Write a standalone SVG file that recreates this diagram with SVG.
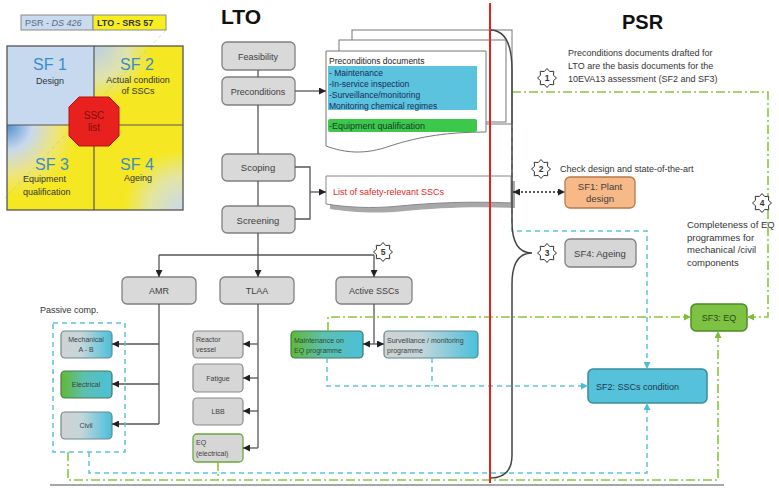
<svg xmlns="http://www.w3.org/2000/svg" width="779" height="488" viewBox="0 0 779 488">
<style>
text{font-family:"Liberation Sans",Arial,sans-serif;fill:#404040}
.box{fill:#d9d9d9;stroke:#808080;stroke-width:1.3}
.sub{fill:#d6d6d6;stroke:#8a8a8a;stroke-width:1.2}
.lbl{font-size:9px;text-anchor:middle}
.sl{font-size:7px}
.ln{fill:none;stroke:#555;stroke-width:1.3}
.blue{fill:none;stroke:#5cc4dc;stroke-width:1.5;stroke-dasharray:5 4}
.green{fill:none;stroke:#8cc63e;stroke-width:1.6;stroke-dasharray:9 3 2 3}
.note{font-size:9px;fill:#333}
.sf{font-size:16px;fill:#3b8cc6;text-anchor:middle}
.sfs{font-size:9px;fill:#333}
.badge{fill:#fff;stroke:#333;stroke-width:1}
.bn{font-size:8.5px;font-weight:bold;text-anchor:middle;fill:#333}
</style>
<defs>
<marker id="aK" markerWidth="7" markerHeight="7" refX="7" refY="3.5" orient="auto" markerUnits="userSpaceOnUse"><path d="M0,0 L7,3.5 L0,7 z" fill="#222"/></marker>
<marker id="aKs" markerWidth="7" markerHeight="7" refX="7" refY="3.5" orient="auto-start-reverse" markerUnits="userSpaceOnUse"><path d="M0,0 L7,3.5 L0,7 z" fill="#222"/></marker>
<marker id="aB" markerWidth="7" markerHeight="7" refX="7" refY="3.5" orient="auto" markerUnits="userSpaceOnUse"><path d="M0,0 L7,3.5 L0,7 z" fill="#4fbcd6"/></marker>
<marker id="aG" markerWidth="7" markerHeight="7" refX="7" refY="3.5" orient="auto" markerUnits="userSpaceOnUse"><path d="M0,0 L7,3.5 L0,7 z" fill="#7fbf35"/></marker>
<linearGradient id="gGB" x1="0" y1="0" x2="1" y2="0"><stop offset="0" stop-color="#d2d2d2"/><stop offset="0.4" stop-color="#c4d6da"/><stop offset="1" stop-color="#48c0da"/></linearGradient>
<linearGradient id="gGrB" x1="0" y1="0" x2="1" y2="0"><stop offset="0" stop-color="#62b834"/><stop offset="0.45" stop-color="#5cc0b0"/><stop offset="1" stop-color="#4cc0da"/></linearGradient>
<radialGradient id="gSF2" cx="94" cy="45" r="95" gradientUnits="userSpaceOnUse"><stop offset="0" stop-color="#b9cde8"/><stop offset="0.35" stop-color="#dfe3ad"/><stop offset="0.6" stop-color="#f5e823"/></radialGradient>
<radialGradient id="gSF3" cx="7" cy="125" r="100" gradientUnits="userSpaceOnUse"><stop offset="0" stop-color="#4f8fd0"/><stop offset="0.25" stop-color="#c8d8ee"/><stop offset="0.5" stop-color="#eee57c"/><stop offset="0.7" stop-color="#f5e823"/></radialGradient>
<radialGradient id="gSF4" cx="183" cy="210" r="85" gradientUnits="userSpaceOnUse"><stop offset="0" stop-color="#c8d9ee"/><stop offset="0.4" stop-color="#e3e5a0"/><stop offset="0.7" stop-color="#f5e823"/></radialGradient>
<path id="star" d="M9.5,0 L6.47,2.68 L6.72,6.72 L2.68,6.47 L0,9.5 L-2.68,6.47 L-6.72,6.72 L-6.47,2.68 L-9.5,0 L-6.47,-2.68 L-6.72,-6.72 L-2.68,-6.47 L0,-9.5 L2.68,-6.47 L6.72,-6.72 L6.47,-2.68 Z"/>
</defs>
<rect width="779" height="488" fill="#fff"/>

<!-- Legend -->
<g id="legend">
<rect x="21" y="15" width="72" height="15" fill="#c9dbef" stroke="#8a8a8a" stroke-width="1"/>
<rect x="93" y="15" width="73" height="15" fill="#f7ee1f" stroke="#8a8a8a" stroke-width="1"/>
<text x="25" y="26" style="font-size:9px;fill:#5a6a80">PSR - <tspan font-style="italic">DS 426</tspan></text>
<text x="97" y="26" style="font-size:9px;fill:#333;font-weight:bold">LTO - SRS 57</text>
<rect x="7" y="46" width="87" height="79" fill="#c6d9ee"/>
<rect x="94" y="46" width="89" height="79" fill="url(#gSF2)"/>
<rect x="7" y="125" width="87" height="85" fill="url(#gSF3)"/>
<rect x="94" y="125" width="89" height="85" fill="url(#gSF4)"/>
<line x1="166" y1="30" x2="5" y2="198" stroke="#9ccf6a" stroke-width="0.8" stroke-dasharray="4 3" opacity="0.6"/>
<rect x="7" y="46" width="176" height="164" fill="none" stroke="#555" stroke-width="1.3"/>
<line x1="94" y1="46" x2="94" y2="210" stroke="#555" stroke-width="1.2"/>
<line x1="7" y1="125" x2="183" y2="125" stroke="#555" stroke-width="1.2"/>
<text x="50" y="70" class="sf">SF 1</text>
<text x="50" y="84" class="sfs" text-anchor="middle">Design</text>
<text x="137" y="70" class="sf">SF 2</text>
<text x="138" y="83" class="sfs" text-anchor="middle">Actual condition</text>
<text x="138" y="94" class="sfs" text-anchor="middle">of SSCs</text>
<text x="52" y="170" class="sf">SF 3</text>
<text x="23" y="182" class="sfs">Equipment</text>
<text x="23" y="195" class="sfs">qualification</text>
<text x="137" y="170" class="sf">SF 4</text>
<text x="138" y="181" class="sfs" text-anchor="middle">Ageing</text>
<polygon points="79,97 109,97 119,107 119,136 109,146 79,146 69,136 69,107" fill="#e8201e" stroke="#b51212" stroke-width="1"/>
<text x="94" y="119" style="font-size:10px;fill:#7a1010;text-anchor:middle">SSC</text>
<text x="94" y="131" style="font-size:10px;fill:#7a1010;text-anchor:middle">list</text>
</g>

<!-- Titles -->
<text x="221" y="24" style="font-size:21px;font-weight:bold;fill:#111">LTO</text>
<text x="622" y="29" style="font-size:20px;font-weight:bold;fill:#111">PSR</text>

<!-- Documents -->
<g id="precond-docs">
<rect x="352" y="30" width="160" height="94" fill="#fff" stroke="#777" stroke-width="1"/>
<rect x="339" y="40" width="167" height="82" fill="#fff" stroke="#777" stroke-width="1"/>
<path d="M326,51 H486 V132 C450,132 420,136 390,146 C365,155 345,153 326,146 Z" fill="#fff" stroke="#777" stroke-width="1"/>
<text x="329" y="64" style="font-size:8.5px;fill:#222">Preconditions documents</text>
<rect x="328" y="66" width="149" height="44" fill="#5bc3dd"/>
<text x="329" y="76" style="font-size:8.5px;fill:#1a2a5a">- Maintenance</text>
<text x="329" y="87" style="font-size:8.5px;fill:#1a2a5a">-In-service inspection</text>
<text x="329" y="98" style="font-size:8.5px;fill:#1a2a5a">-Surveillance/monitoring</text>
<text x="329" y="109" style="font-size:8.5px;fill:#1a2a5a">Monitoring chemical regimes</text>
<rect x="328" y="119" width="149" height="13" rx="2" fill="#3cc84a"/>
<text x="329" y="129" style="font-size:9px;fill:#1a3a2a">-Equipment qualification</text>
</g>

<g id="ssc-list">
<path d="M330,181 H515 V208 C475,206 435,208 405,211 C375,214 350,212 330,209 Z" fill="#a8a8a8"/>
<path d="M326,176 H511 V203 C470,201 430,203 400,206 C370,209 345,207 326,204 Z" fill="#fff" stroke="#888" stroke-width="1"/>
<text x="333" y="195" style="font-size:9px;fill:#e8262a">List of safety-relevant SSCs</text>
</g>

<!-- LTO boxes -->
<g id="feasibility"><rect class="box" x="222" y="42" width="73" height="28" rx="5"/><text class="lbl" x="258" y="60">Feasibility</text></g>
<g id="preconditions"><rect class="box" x="222" y="77" width="73" height="28" rx="5"/><text class="lbl" x="258" y="95">Preconditions</text></g>
<g id="scoping"><rect class="box" x="222" y="154" width="73" height="27" rx="5"/><text class="lbl" x="258" y="171" style="font-size:9.5px">Scoping</text></g>
<g id="screening"><rect class="box" x="222" y="206" width="73" height="27" rx="5"/><text class="lbl" x="258" y="224" style="font-size:9.5px">Screening</text></g>
<g id="amr"><rect class="box" x="122" y="277" width="74" height="27" rx="5"/><text class="lbl" x="159" y="294">AMR</text></g>
<g id="tlaa"><rect class="box" x="220" y="277" width="74" height="27" rx="5"/><text class="lbl" x="257" y="294">TLAA</text></g>
<g id="active"><rect class="box" x="336" y="277" width="76" height="27" rx="5"/><text class="lbl" x="374" y="294">Active SSCs</text></g>

<!-- Passive comp -->
<text x="40" y="313" style="font-size:9px;fill:#333">Passive comp.</text>
<g id="mechanical"><rect x="61" y="331" width="51" height="27" rx="4" fill="url(#gGB)" stroke="#6a8a90" stroke-width="1.2"/><text x="86" y="342" class="sl" text-anchor="middle">Mechanical</text><text x="86" y="352" class="sl" text-anchor="middle">A  -  B</text></g>
<g id="electrical"><rect x="61" y="371" width="51" height="27" rx="4" fill="url(#gGrB)" stroke="#4a7a50" stroke-width="1.2"/><text x="86" y="387" class="sl" text-anchor="middle">Electrical</text></g>
<g id="civil"><rect x="61" y="412" width="51" height="27" rx="4" fill="url(#gGB)" stroke="#6a8a90" stroke-width="1.2"/><text x="86" y="428" class="sl" text-anchor="middle">Civil</text></g>

<!-- TLAA sub -->
<g id="reactor"><rect class="sub" x="193" y="331" width="50" height="27" rx="4"/><text x="196" y="342" class="sl">Reactor</text><text x="196" y="352" class="sl">vessel</text></g>
<g id="fatigue"><rect class="sub" x="193" y="364" width="50" height="28" rx="4"/><text x="218" y="381" class="sl" text-anchor="middle">Fatigue</text></g>
<g id="lbb"><rect class="sub" x="193" y="398" width="50" height="27" rx="4"/><text x="218" y="414" class="sl" text-anchor="middle">LBB</text></g>
<g id="eq-electrical"><rect x="193" y="434" width="50" height="28" rx="4" fill="#d6d6d6" stroke="#6aa83a" stroke-width="1.3"/><text x="196" y="445" class="sl">EQ</text><text x="196" y="456" class="sl">(electrical)</text></g>

<!-- Active sub -->
<g id="maintenance"><rect x="291" y="331" width="72" height="27" rx="4" fill="url(#gGrB)" stroke="#3d7a55" stroke-width="1.2"/><text x="294" y="343" class="sl" style="fill:#2a4a30">Maintenance on</text><text x="294" y="353" class="sl" style="fill:#2a4a30">EQ programme</text></g>
<g id="surveillance"><rect x="384" y="331" width="94" height="27" rx="4" fill="url(#gGB)" stroke="#5a8890" stroke-width="1.2"/><text x="387" y="343" class="sl">Surveillance / monitoring</text><text x="387" y="353" class="sl">programme</text></g>

<!-- PSR side -->
<g id="sf1"><rect x="565" y="177" width="70" height="31" rx="5" fill="#f8b988" stroke="#b57a4a" stroke-width="1.3"/><text x="600" y="190" class="lbl" style="font-size:9.5px">SF1: Plant</text><text x="600" y="202" class="lbl" style="font-size:9.5px">design</text></g>
<g id="sf4"><rect x="565" y="239" width="71" height="28" rx="5" fill="#d6d6d6" stroke="#808080" stroke-width="1.3"/><text x="600" y="257" class="lbl" style="font-size:9.5px">SF4: Ageing</text></g>
<g id="sf3"><rect x="691" y="304" width="56" height="27" rx="5" fill="#7dc242" stroke="#4f8a2a" stroke-width="1.5"/><text x="719" y="321" class="lbl" style="fill:#2a4a1a">SF3: EQ</text></g>
<g id="sf2"><rect x="588" y="369" width="119" height="34" rx="5" fill="#56c1da" stroke="#3a8a9c" stroke-width="1.5"/><text x="596" y="390" style="font-size:9px;fill:#1a3a4a">SF2: SSCs condition</text></g>

<text class="note" x="568" y="56">Preconditions documents drafted for</text>
<text class="note" x="568" y="69">LTO are the basis documents for the</text>
<text class="note" x="568" y="82">10EVA13 assessment (SF2 and SF3)</text>
<text class="note" x="560" y="172">Check design and state-of-the-art</text>
<text class="note" x="687" y="228" style="font-size:9.5px">Completeness of EQ</text>
<text class="note" x="687" y="241" style="font-size:9.5px">programmes for</text>
<text class="note" x="687" y="253" style="font-size:9.5px">mechanical /civil</text>
<text class="note" x="687" y="266" style="font-size:9.5px">components</text>

<!-- Connectors -->
<g id="connectors">
<line class="ln" x1="258" y1="70" x2="258" y2="77"/>
<line class="ln" x1="258" y1="105" x2="258" y2="154"/>
<line class="ln" x1="258" y1="181" x2="258" y2="206"/>
<line class="ln" x1="258" y1="233" x2="258" y2="277" marker-end="url(#aK)"/>
<line class="ln" x1="159" y1="255" x2="374" y2="255"/>
<line class="ln" x1="159" y1="255" x2="159" y2="277" marker-end="url(#aK)"/>
<line class="ln" x1="374" y1="255" x2="374" y2="277" marker-end="url(#aK)"/>
<line class="ln" x1="295" y1="91" x2="326" y2="91" marker-end="url(#aK)"/>
<polyline class="ln" points="295,167 310,167 310,219 295,219"/>
<line class="ln" x1="310" y1="192" x2="326" y2="192" marker-end="url(#aK)"/>
<line class="ln" x1="159" y1="304" x2="159" y2="424"/>
<line class="ln" x1="159" y1="344" x2="112" y2="344" marker-end="url(#aK)"/>
<line class="ln" x1="159" y1="384" x2="112" y2="384" marker-end="url(#aK)"/>
<line class="ln" x1="159" y1="424" x2="112" y2="424" marker-end="url(#aK)"/>
<line class="ln" x1="258" y1="304" x2="258" y2="448"/>
<line class="ln" x1="258" y1="344" x2="243" y2="344" marker-end="url(#aK)"/>
<line class="ln" x1="258" y1="378" x2="243" y2="378" marker-end="url(#aK)"/>
<line class="ln" x1="258" y1="411" x2="243" y2="411" marker-end="url(#aK)"/>
<line class="ln" x1="258" y1="448" x2="243" y2="448" marker-end="url(#aK)"/>
<line class="ln" x1="374" y1="304" x2="374" y2="344"/>
<line class="ln" x1="374" y1="344" x2="363" y2="344" marker-end="url(#aK)"/>
<line class="ln" x1="374" y1="344" x2="384" y2="344" marker-end="url(#aK)"/>
<line x1="513" y1="192" x2="565" y2="192" stroke="#222" stroke-width="1.3" stroke-dasharray="2 2" marker-start="url(#aKs)" marker-end="url(#aKs)"/>

<rect x="53" y="323" width="72" height="129" class="blue"/>
<polyline class="blue" points="89,452 89,473 647,473 647,403" marker-end="url(#aB)"/>
<polyline class="blue" points="327,358 327,386 588,386" marker-end="url(#aB)"/>
<line class="blue" x1="432" y1="358" x2="432" y2="386"/>
<polyline class="blue" points="512,92 512,231 647,231 647,369" marker-end="url(#aB)"/>

<polyline class="green" points="512,92 768,92 768,317 747,317" marker-end="url(#aG)"/>
<polyline class="green" points="328,331 328,317 691,317" marker-end="url(#aG)"/>
<polyline class="green" points="68,452 68,480 718,480 718,331" marker-end="url(#aG)"/>
<line class="green" x1="218" y1="462" x2="218" y2="480"/>

<line x1="50" y1="485" x2="724" y2="485" stroke="#8a8a8a" stroke-width="1.5"/>
<path d="M490,30 Q512,30 512,70 L512,222 Q512,253 532,253 Q512,253 512,284 L512,455 Q512,478 490,478" fill="none" stroke="#444" stroke-width="1.5"/>
<line x1="490" y1="3" x2="490" y2="483" stroke="#e8201e" stroke-width="2"/>
</g>

<!-- Badges -->
<g id="badge1"><use href="#star" x="547" y="78" class="badge"/><text class="bn" x="547" y="81">1</text></g>
<g id="badge2"><use href="#star" x="541" y="169" class="badge"/><text class="bn" x="541" y="172">2</text></g>
<g id="badge3"><use href="#star" x="547" y="253" class="badge"/><text class="bn" x="547" y="256">3</text></g>
<g id="badge4"><use href="#star" x="762" y="203" class="badge"/><text class="bn" x="762" y="206">4</text></g>
<g id="badge5"><use href="#star" x="383" y="252" class="badge"/><text class="bn" x="383" y="255">5</text></g>
</svg>
